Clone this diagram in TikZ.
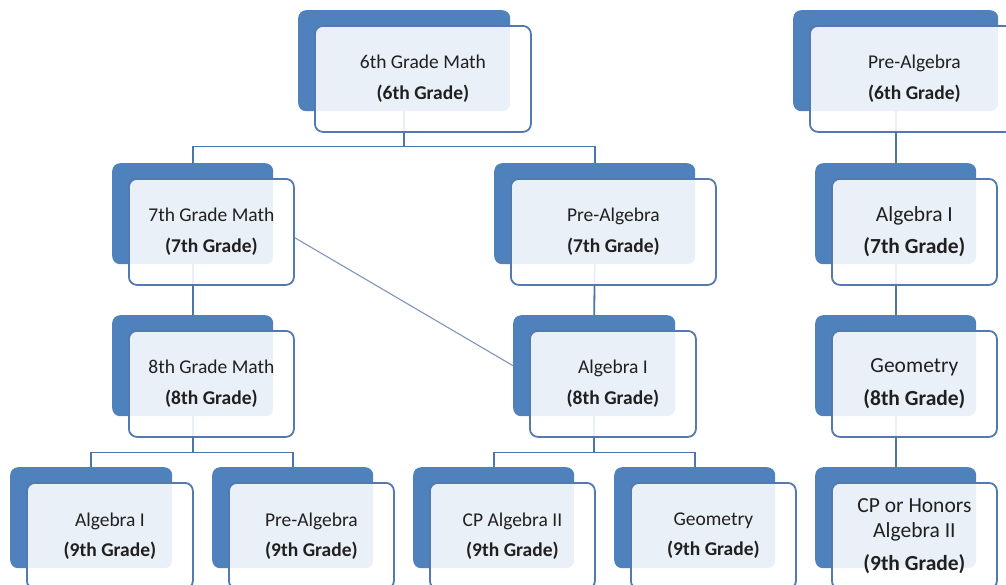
\documentclass[tikz,border=0pt]{standalone}
\usepackage{fontspec}
\setmainfont{Carlito}
\definecolor{boxblue}{HTML}{4F81BD}
\definecolor{edgeblue}{HTML}{5379B0}
\definecolor{lineblue}{HTML}{4D74AC}
\definecolor{diagline}{HTML}{7F96BA}
\definecolor{txt}{HTML}{202020}
\pgfdeclarelayer{bgl}
\pgfdeclarelayer{lines}
\pgfsetlayers{bgl,lines,main}
\tikzset{
  backbox/.style={fill=boxblue, draw=none, rounded corners=8pt, minimum height=101pt, inner sep=0pt},
  frontbox/.style={fill=white, fill opacity=0.885, text opacity=1, draw=edgeblue, line width=1.8pt,
    rounded corners=8pt, minimum height=106pt, inner sep=2pt, align=center, text=txt,
    font=\fontsize{19.5}{23}\selectfont},
  bigtext/.style={font=\fontsize{21.5}{25}\selectfont},
  honors/.style={font=\fontsize{21.5}{24.5}\selectfont},
  conn/.style={draw=lineblue, line width=1.8pt},
  diag/.style={draw=diagline, line width=1.1pt},
}
\newcommand{\mkbox}[6]{%
  \node[backbox, minimum width=#4pt, anchor=north west] (b#1) at (#2,#3) {};
  \node[frontbox, minimum width=#4pt+4pt, anchor=north west, #5] (f#1) at ({#2+16},{#3+15}) {#6};
}
\begin{document}
\begin{tikzpicture}[x=1pt,y=-1pt]
\useasboundingbox (0,0) rectangle (1006,584);
\begin{pgfonlayer}{bgl}
  \fill[white] (0,0) rectangle (1006,584);
\end{pgfonlayer}
% boxes
\mkbox{root}{298}{10}{212}{}{6th Grade Math\\[8pt]\textbf{(6th Grade)}}
\mkbox{pre6}{793}{10}{205}{}{Pre-Algebra\\[8pt]\textbf{(6th Grade)}}
\mkbox{m7}{112}{163}{161}{}{7th Grade Math\\[8pt]\textbf{(7th Grade)}}
\mkbox{p7}{494}{163}{201}{}{Pre-Algebra\\[8pt]\textbf{(7th Grade)}}
\mkbox{a7r}{815}{163}{161}{bigtext}{Algebra I\\[7pt]\textbf{(7th Grade)}}
\mkbox{m8}{112}{315}{161}{}{8th Grade Math\\[8pt]\textbf{(8th Grade)}}
\mkbox{a8}{513}{315}{162}{}{Algebra I\\[8pt]\textbf{(8th Grade)}}
\mkbox{g8r}{815}{315}{161}{bigtext}{Geometry\\[8pt]\textbf{(8th Grade)}}
\mkbox{a9}{10}{467}{162}{}{Algebra I\\[7pt]\textbf{(9th Grade)}}
\mkbox{p9}{212}{467}{161}{}{Pre-Algebra\\[7pt]\textbf{(9th Grade)}}
\mkbox{c9}{413}{467}{161}{}{CP Algebra II\\[7pt]\textbf{(9th Grade)}}
\mkbox{g9}{614}{467}{161}{}{Geometry\\[7pt]\textbf{(9th Grade)}}
\mkbox{h9}{815}{467}{161}{honors}{CP or Honors\\Algebra II\\[8.5pt]\textbf{(9th Grade)}}
% connectors
\begin{pgfonlayer}{lines}
  \path (broot.south) ++(0,35) coordinate (j1);
  \path (bm8.south) ++(0,36) coordinate (j2);
  \path (ba8.south) ++(0,36) coordinate (j3);
  \draw[conn] (broot.south) -- (j1) -| (bm7.north);
  \draw[conn] (j1) -| (bp7.north);
  \draw[conn] (bm7.south) -- (bm8.north);
  \draw[conn] (bp7.south) -- (ba8.north);
  \draw[diag] (fm7.-4) -- (ba8.west);
  \draw[conn] (bm8.south) -- (j2) -| (ba9.north);
  \draw[conn] (j2) -| (bp9.north);
  \draw[conn] (ba8.south) -- (j3) -| (bc9.north);
  \draw[conn] (j3) -| (bg9.north);
  \draw[conn] (bpre6.south) -- (ba7r.north);
  \draw[conn] (ba7r.south) -- (bg8r.north);
  \draw[conn] (bg8r.south) -- (bh9.north);
\end{pgfonlayer}
\end{tikzpicture}
\end{document}
